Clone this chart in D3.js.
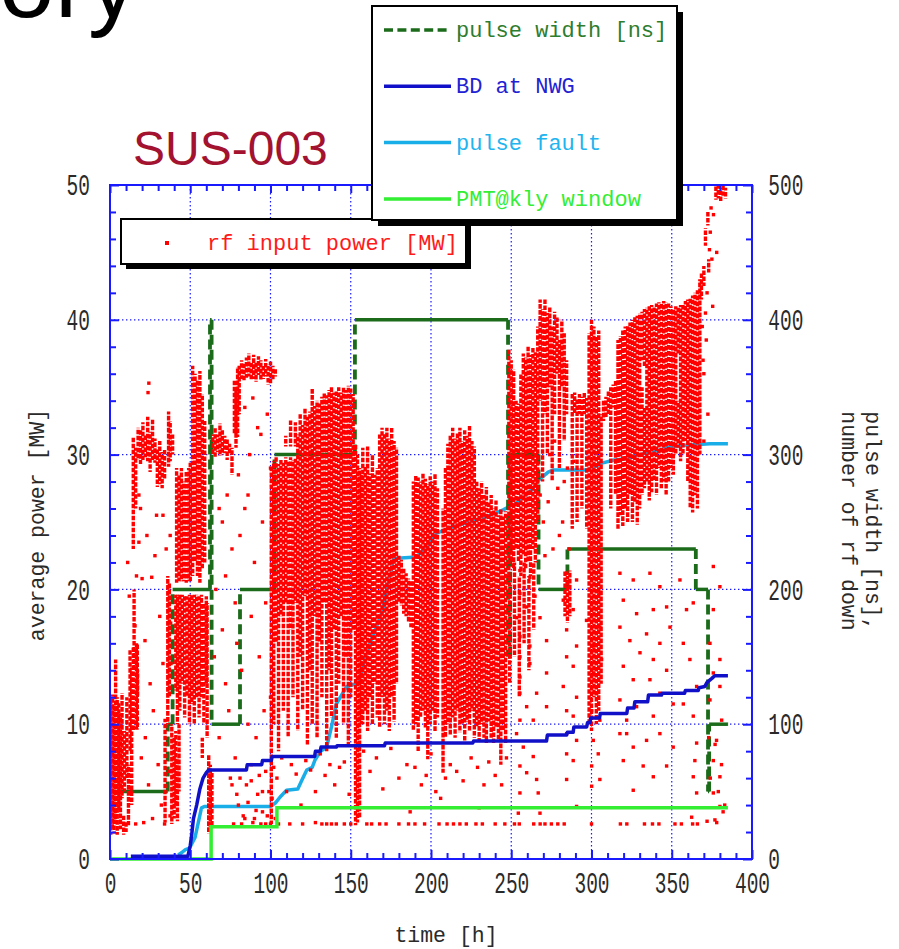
<!DOCTYPE html>
<html>
<head>
<meta charset="utf-8">
<script src="https://cdn.jsdelivr.net/npm/d3@7"></script>
<style>
  body { margin: 0; background: #fff; }
  svg { display: block; }
</style>
</head>
<body>
<div id="chart"></div>
<script>
// ---------------------------------------------------------------------------
// Data
// time [h] on x, average power [MW] on the left axis,
// pulse width [ns] / number of rf down on the right axis
const xTicks = d3.range(0, 401, 10);
const xLabels = [0, 50, 100, 150, 200, 250, 300, 350, 400];
const leftTicks = d3.range(0, 51, 2);
const leftLabels = [0, 10, 20, 30, 40, 50];
const rightTicks = d3.range(0, 501, 20);

// pulse width [ns], step after each time
const pulseWidth = [
  [0, 50], [36, 100], [39, 200], [62.3, 400], [63.3, 100], [81, 200],
  [102.5, 300], [152.6, 400], [248, 150], [249.3, 300], [267, 200],
  [285, 230], [365, 200], [372.6, 50], [373.3, 100], [385, 100],
];

// BD at NWG, cumulative count
const bdNWG = [
  [13, 2], [48.5, 2], [50, 10], [51, 19], [52, 30], [54, 40], [56, 52], [58, 60],
  [60, 64], [61.5, 66], [85, 66], [85.5, 70], [94.5, 70], [95, 73], [100.5, 73],
  [101, 76], [127.5, 76], [128, 80], [131, 80], [131.5, 83], [141, 83], [141.5, 84],
  [171, 84], [171.5, 86], [226, 86], [226.5, 87.5], [272, 87.5], [272.5, 92],
  [284.5, 92], [285, 94], [288.6, 94], [289, 98], [297, 98], [297.5, 101], [299, 101],
  [299.5, 104.6], [305, 104.6], [305.5, 108], [322, 108], [322.5, 112], [326.5, 112],
  [327, 116.7], [335, 116.7], [335.5, 121.6], [343.6, 121.6], [344, 123], [358, 123],
  [358.5, 125], [366.5, 125], [367, 127], [370.6, 128], [372, 131], [375, 134],
  [376.8, 136], [385, 136],
];

// pulse fault, cumulative count
const pulseFault = [
  [42.5, 3], [45, 5], [47, 7], [49.5, 8], [53, 16], [55, 27], [57, 38], [59, 39],
  [100, 39], [103, 41.5], [106, 46], [110, 51], [117, 52], [119.6, 58.6], [122.6, 66],
  [126, 68], [127.7, 73.4], [131, 79.6], [135, 83], [138, 98], [141, 115], [144, 121],
  [147.5, 128], [153.7, 130], [156, 136], [162, 160], [170, 185], [172.4, 200],
  [174.5, 209], [176.5, 223], [191, 224], [195, 229], [203.5, 241.5], [209.8, 245],
  [218, 248], [228.5, 251.5], [236.8, 255], [245, 259], [248, 261], [252, 263],
  [258, 269], [263, 274], [267, 281], [270, 284], [273, 287], [276, 288.5],
  [298, 288.5], [306, 293.5], [314, 296], [322, 297], [330, 300], [338.5, 302],
  [349, 305.8], [359, 307], [373.8, 308], [385, 308],
];

// PMT@kly window, cumulative count
const pmtKly = [[0, 0], [63, 0], [63, 24], [104, 24], [104, 38], [385, 38]];

// rf input power [MW]: dense vertical runs of samples [time, low, high]
const rfStreaks = [
  // 0-17 h
  [0.5, 1.8, 11.8], [1.5, 2.2, 12.2], [2.5, 1.9, 11.5], [3.5, 2.6, 14.8], [4.5, 1.8, 12],
  [5.5, 3.5, 11.6], [6.5, 2.2, 10.8], [7.5, 4.5, 12.3], [8.5, 1.8, 3.2], [9, 5, 9.5],
  [10, 2, 2.8], [10.5, 6, 12], [11.5, 2.5, 7], [12.5, 8, 15.5], [13.5, 4, 14.2],
  [14.5, 9.5, 15.8], [16.5, 9.6, 16], [17.2, 12, 14],
  // 14-41 h, ~30 MW
  [14.5, 23, 31.3], [16, 26, 30.5], [17.5, 29.6, 32], [19, 29.3, 31.8], [20.5, 29.6, 32.4],
  [22, 29.8, 31.5], [23.5, 29.5, 32.8], [25, 28.7, 31.7], [26.5, 29.6, 32.6], [28, 29.4, 31.2],
  [29.5, 27.6, 30.5], [31, 27.8, 31], [32.5, 27.5, 30.2], [34, 28.2, 30.4], [36.5, 29.1, 33.2],
  [37.5, 29.5, 32.5], [39, 30, 31.5],
  [15, 14, 20], [17, 9.6, 16], [34.3, 2.7, 10.4], [38.5, 2.6, 10],
  [40, 3, 9], [41, 4, 9.5], [42, 2.8, 7.5], [43, 5, 10],
  // 36-64 h
  [41.5, 20.5, 29], [43, 20.6, 28.5], [44.5, 20.6, 29], [46, 20.6, 28], [47.5, 20.5, 28.7],
  [49, 20.6, 29], [50, 20.5, 29.5], [51.5, 21, 36.6], [53, 22, 36], [54.5, 21, 35.5],
  [56, 20.5, 36.2], [57.5, 21.5, 34.5], [59, 22, 32.5],
  [36, 10, 21], [37, 12, 20.5], [41, 12.5, 19.6], [42, 10, 19.6],
  [43.5, 11, 19.6], [45, 13, 19.6], [46.5, 10.5, 19.6], [48, 12, 19.5], [49.5, 10, 19.6],
  [51, 11.5, 19.6], [52.5, 10, 19.6], [54, 12, 19.6], [55.5, 10.5, 19.5], [57, 12, 19.6],
  [58.5, 10, 19], [60, 13, 19.5], [60.5, 9, 19],
  [61.5, 1.9, 7.7], [62.5, 2, 7], [63.5, 2.5, 6.5], [57.5, 7.5, 9],
  // 63-104 h
  [64, 30, 31.5], [65.5, 29.8, 32], [67, 30.2, 31.5], [68.5, 29.9, 32.3], [70, 30, 31.8],
  [71.5, 30.1, 31.4], [73, 29.6, 31.2], [74.5, 30, 30.8], [76, 28.5, 30.5],
  [77.5, 31.5, 35.5], [78.5, 30.5, 35], [79.5, 31.3, 36.5], [80.5, 33, 36.6], [82, 35.6, 37],
  [83.5, 35.5, 36.8], [85, 35.7, 37.2], [86.5, 35.8, 37.5], [88, 35.5, 36.8], [89.5, 35.6, 37.4],
  [91, 35.4, 36.9], [92.5, 35.9, 37.3], [94, 35.5, 37], [95.5, 35.6, 36.6], [97, 35.8, 37.1],
  [98.5, 35.2, 36.7], [100, 35.3, 36.9], [101.5, 35.5, 36.6], [103, 35.8, 36.4],
  // 100-152 h
  [100.5, 2.6, 29], [102, 10, 29.5], [103.5, 16, 29.8], [105, 8, 29.3], [106.5, 18, 29.7],
  [108, 11, 29.4], [109.5, 19, 29.8], [111, 9, 29.5], [112.5, 17, 29.8], [114, 12, 29.6],
  [115.5, 19, 29.7], [109.5, 30.6, 31.4], [112.5, 30.6, 32.6], [115.5, 30.6, 32.4],
  [117, 9.5, 31.5], [118.5, 15, 33], [120, 11, 32.2], [121.5, 19.5, 33.5],
  [123, 8.5, 32.8], [124.5, 14, 33.2], [126, 10, 34.9], [127.5, 18, 33.6], [129, 9, 34],
  [130.5, 16, 33.8], [132, 12, 34.3], [133.5, 19, 34.6], [135, 8, 34.4], [136.5, 14, 34.8],
  [138, 10.5, 35], [139.5, 17, 34.6], [141, 9, 34.8], [142.5, 13, 35], [144, 18, 34.6],
  [145.5, 10, 35], [147, 15, 34.8], [148.5, 8.5, 35.1], [150, 12, 34.9], [151.5, 17, 34.5],
  // 152-205 h
  [153, 2.5, 30.8], [154.2, 2.7, 30], [155.5, 3, 29], [156.5, 10, 28.5],
  [157.5, 10, 30.5], [159, 11, 29.2], [160.5, 9.5, 30.6], [162, 12, 28.6], [163.5, 10, 30],
  [165, 13, 28.5], [166.5, 10.5, 29], [168, 9.8, 31.5], [169.5, 12, 32], [171, 10, 31.6],
  [172.5, 11, 32], [174, 9.5, 31.2], [175.5, 12, 32], [177, 10.2, 31], [178.5, 13, 30.5],
  [180, 19, 22.5], [181.5, 18.8, 22.2], [183, 18.2, 21.6], [184.5, 18, 21.2], [186, 17.6, 20.8],
  [187.5, 17.2, 20.6],
  [189, 9.5, 28], [190.5, 10, 28.5], [192, 8, 28.3], [193.5, 10.5, 28], [195, 11, 28.6],
  [196.5, 9.7, 28.2], [198, 7.4, 27.8], [199.5, 10, 28.4], [201, 11, 28], [202.5, 9.5, 28.6],
  [204, 10.5, 27.5],
  // 207-248 h
  [207.5, 6.4, 26], [209, 9, 29], [210.5, 10, 30.8], [212, 9.2, 31.5], [213.5, 10.5, 32],
  [215, 9, 31.2], [216.5, 11, 31.6], [218, 9.4, 32], [219.5, 10, 31], [221, 8.8, 31.8],
  [222.5, 10.2, 31.4], [224, 9.5, 32.2], [225.5, 11, 31], [227, 9, 30.6], [228.5, 9.8, 28],
  [230, 8.7, 27.5], [231.5, 10, 28], [233, 9, 27], [234.5, 8.6, 27.6], [236, 10.2, 26.5],
  [237.5, 9, 27], [239, 8.5, 26], [240.5, 9.8, 26.6], [242, 8.8, 25.5], [243.5, 7, 26],
  [245, 9.5, 25.4], [246.5, 8.6, 25.8],
  // 248-267 h
  [248.5, 21, 37.8], [250, 22, 37], [251.5, 21.5, 36.3], [253, 23, 34], [254.5, 22, 33.8],
  [256, 21, 36], [257.5, 22.5, 37.5], [259, 21.5, 37.2], [260.5, 22, 38], [262, 21, 37.4],
  [263.5, 23, 38], [265, 22, 37.6], [266.5, 25, 39.5],
  [249, 13, 21], [252, 15, 22], [255, 12, 21], [258, 16, 22], [261, 14, 21], [264, 17, 22],
  // 267-287 h
  [268, 34, 41.5], [269.5, 28, 40.8], [271, 33, 41.5], [272.5, 30, 40.5], [274, 35, 41],
  [275.5, 28, 39.5], [277, 33, 40.6], [278.5, 36, 40.2], [280, 29, 38.5], [281.5, 35, 40],
  [283, 31, 39], [284.5, 33, 37], [283.5, 18, 21.4], [285, 17.5, 21], [286.5, 18, 21.4],
  // 287-316 h
  [288, 24.5, 34.5], [289.5, 33, 34.6], [291, 25, 34.2], [292.5, 33, 34.5], [294, 26, 34.3],
  [295.5, 33, 34.6], [297, 24.5, 34.2], [298.5, 10, 39], [300, 9.5, 40], [301.5, 12, 39.5],
  [303, 10, 38.8], [304.5, 11, 39.2], [306, 13, 33], [307.5, 32.5, 34], [309, 32.7, 34.3],
  [310.5, 33, 34.8], [312, 26, 35], [313.5, 33.5, 35.2], [315, 27, 35.5],
  // 316-368 h
  [316.5, 24.5, 38.5], [318, 25.5, 38.8], [319.5, 24.7, 39.2], [321, 26, 39.5], [322.5, 25, 39.6],
  [324, 27, 39.8], [325.5, 25, 40], [327, 26.5, 40.2], [328.5, 24.8, 40.3], [330, 26, 40.5],
  [331.5, 27, 35], [331.5, 37, 40.6], [333, 27.5, 33.5], [333, 36.5, 40.8], [334.5, 28, 40.9],
  [336, 26.6, 41], [337.5, 27.2, 41.1], [339, 28, 41], [340.5, 27, 41.2], [342, 29, 41.3],
  [343.5, 27.5, 41.2], [345, 28, 41.4], [346.5, 27, 41.3], [348, 28, 41.2], [349.5, 29, 41],
  [351, 28.5, 40.8], [352.5, 30, 41], [354, 30.5, 34], [354, 37.5, 40.9], [355.5, 29.5, 41.1],
  [357, 30, 41.2], [358.5, 31, 41.4], [360, 28, 41.5], [361.5, 26, 41.6], [363, 25.7, 41.8],
  [364.5, 27, 42], [366, 26, 42.2], [367.5, 30, 43],
  // trail to 50 MW
  [368.5, 41.5, 43.5], [370, 42.5, 44], [371, 45.5, 46.8], [372.5, 47, 48], [373, 43.5, 44.5],
  [377.5, 48.9, 50], [379, 49, 50], [380.5, 48.8, 49.8], [382, 49.2, 50], [383.5, 49, 49.8],
];

// rf input power [MW]: isolated samples [time, power]
const rfDots = [
  // 0-40 h
  [20, 20.8], [26, 20.9], [21.8, 16.2], [15.6, 17.3], [23, 24], [19, 26], [28, 22.5], [31, 18],
  [33, 14.5], [25, 13], [12, 19.5], [29, 25.5], [35, 23], [18, 23.5], [27, 11], [22, 9],
  [30, 7], [24, 5.5], [32, 4], [19.5, 7.5], [26.5, 3], [16, 2.6], [21, 2.7], [34, 2.6],
  [13, 5], [23.7, 34.6], [24.2, 35.3], [18, 27], [16.5, 21], [33, 25.5], [37.5, 24], [11, 22],
  [37.2, 6.5], [37.4, 3.2], [38, 14.5], [37.8, 17.5],
  // 60-104 h
  [66, 20], [70, 17], [72, 13], [68, 9], [75, 6], [80, 4], [85, 5.5], [88, 7], [92, 4.8],
  [95, 3.5], [97, 6.5], [99, 5], [90, 3], [83, 3.2], [78, 7.5], [74, 11], [70, 25], [76, 23],
  [84, 26], [90, 22], [95, 25], [88, 18], [93, 15], [97, 19], [100, 12], [82, 14], [86, 10],
  [79, 16], [91, 9], [96, 11], [80, 28.5], [87, 30], [92, 32], [98, 33], [84, 33.5],
  [89, 34.2], [94, 31.5], [100, 29], [86, 27], [81, 24], [78, 19], [73, 27], [79, 4.8],
  [81, 6], [84, 3], [86, 4.2], [88, 5.8], [91, 3.6], [93, 6.2], [95, 5], [98, 3.2], [101, 4.5],
  [102, 6.8], [103, 3], [77, 2.6], [82, 2.6], [100, 2.6], [68, 26], [72, 21], [65, 15],
  [76, 5.5], [89, 2.7], [94, 2.6], [97, 2.6],
  // 100-250 h, low power
  [104, 6], [107, 7.5], [110, 5], [113, 7], [116, 6.3], [119, 4], [122, 7.3], [125, 6.6],
  [128, 5], [131, 7.8], [134, 6.2], [137, 7], [140, 5.5], [143, 6.8], [146, 7.2], [149, 4.8],
  [105, 2.6], [112, 2.6], [120, 2.6], [128, 2.7], [132, 2.6],
  [158, 8], [162, 6.5], [166, 7.5], [170, 5.2], [175, 8.2], [180, 6], [185, 7], [187, 3.5],
  [190, 6.8], [194, 5.5], [197, 6.2], [200, 7.8], [203, 5], [206, 4.5], [209, 6], [212, 7],
  [216, 6.5], [220, 5.8], [225, 7.5], [229, 6.8], [233, 5.5], [236, 7.2], [240, 6.2],
  [244, 5.5], [247, 7.5], [230, 3.8],
  // 250-385 h, low power
  [255.4, 21.4], [261.6, 20.9], [255.4, 19.7], [259.6, 18.7], [264.8, 19.5], [253.3, 17.9],
  [267.9, 17.9], [255.4, 16.5], [261.6, 15.8], [272, 16.2], [255.4, 15], [261.6, 14.5],
  [272, 13.8], [255.4, 13.5], [255.4, 12.3], [265.8, 12.3], [259.6, 11.3], [272, 11.3],
  [255.4, 10.3], [263.7, 10.3], [253.3, 9.3], [257.5, 8.3], [263.7, 7.6], [255.4, 6.9],
  [259.6, 6.4], [265.8, 5.9], [255.4, 4.9], [266.8, 4.9], [254.4, 3.4], [267.9, 3.4],
  [284.5, 21.2], [290.7, 20.7], [282.4, 19.2], [288.6, 18.5], [296.9, 17.7], [284.5, 17],
  [290.7, 15.8], [284.5, 15], [288.6, 14.3], [282.4, 12.8], [290.7, 12], [284.5, 11],
  [288.6, 10.6], [284.5, 9.3], [290.7, 8.8], [284.5, 7.8], [288.6, 7.3], [284.5, 5.9],
  [290.7, 3.9], [301.1, 21.7], [305.2, 19.7], [300.1, 18.5], [305.2, 17.2], [301.1, 15.8],
  [306.3, 14.8], [301.1, 13.8], [303.2, 12.3], [300.1, 11], [305.2, 10.3], [301.1, 8.8],
  [304.2, 7.8], [300.1, 6.9], [305.2, 5.9], [300.1, 5.4], [317.7, 21.2], [326, 20.7],
  [319.8, 19.2], [328.1, 18.2], [317.7, 17.2], [323.9, 16.2], [330.2, 15.3], [319.8, 14.3],
  [326, 13.3], [317.7, 11.8], [328.1, 11.3], [321.9, 10.3], [317.7, 9.3], [326, 8.3],
  [319.8, 7.3], [332.2, 6.9], [326, 5.1], [321.9, 9.3], [336.4, 21.2], [342.6, 20.2],
  [338.5, 18.5], [346.8, 18.7], [334.3, 16.7], [342.6, 16], [348.9, 17.2], [338.5, 14.8],
  [346.8, 14], [336.4, 13.3], [342.6, 12.3], [350.9, 11.5], [338.5, 10.6], [334.3, 8.8],
  [342.6, 9.3], [350.9, 8.3], [346.8, 6.9], [338.5, 6.1], [355.1, 20.7], [359.2, 18.5],
  [357.2, 16], [363.4, 19], [361.3, 14.8], [365.5, 12.8], [357.2, 11.5], [363.4, 10.6],
  [365.5, 8.6], [364.4, 7.3], [363.4, 6.1], [365.5, 4.9], [362.4, 3.1], [375.9, 21.7],
  [380, 20.2], [375.9, 18.5], [373.8, 16], [380, 14.8], [375.9, 13.8], [380, 12.8],
  [373.8, 11.8], [381.1, 10.3], [377.9, 8.8], [375.9, 7.3], [380, 6.1], [375.9, 4.9],
  [380, 3.9], [376.9, 2.9], [373, 9], [374, 6], [377, 8.5], [379, 5], [381, 7], [383, 4],
  [372, 2.8], [378, 2.7], [382, 3.5],
  // 267-287 h, mid power
  [268, 27], [270, 25], [273, 26.5], [276, 23], [279, 27.5], [282, 25], [285, 29], [271, 22.5],
  [274, 30], [277, 31], [280, 24], [283, 28], [286, 23], [289, 29.5],
  // trail to 50 MW
  [370, 36], [371, 40.5], [369, 39.5], [372, 42], [373.5, 45.2], [374, 46.5], [376, 47.8],
  [375, 44.5], [371.5, 38.5], [369.5, 37], [378, 45], [372.5, 33], [370, 31], [375.5, 41],
  [374.5, 48.3],
  // floor row near 2.6 MW
  [135, 2.6], [138, 2.6], [141, 2.6], [146, 2.6], [150, 2.6], [160, 2.6], [163, 2.6],
  [168, 2.6], [172, 2.6], [180, 2.6], [186, 2.6], [190, 2.6], [196, 2.6], [205, 2.6],
  [210, 2.6], [214, 2.6], [218, 2.6], [222, 2.6], [228, 2.6], [232, 2.6], [240, 2.6],
  [246, 2.6], [252, 2.6], [255, 2.6], [264, 2.6], [268, 2.6], [271, 2.6], [275, 2.6],
  [279, 2.6], [283, 2.6], [300, 2.6], [318, 2.6], [322, 2.6], [333, 2.6], [338, 2.6],
  [342, 2.6], [352, 2.6], [356, 2.6], [363, 2.6], [366, 2.6],
];

const legendItems = [
  { label: "pulse width [ns]", line: "#1b6b1b", text: "#2e7d2e", dashed: true },
  { label: "BD at NWG", line: "#1010c8", text: "#2222d4", dashed: false },
  { label: "pulse fault", line: "#1aaee8", text: "#22b4ee", dashed: false },
  { label: "PMT@kly window", line: "#33ee33", text: "#33ee33", dashed: false },
];

// ---------------------------------------------------------------------------
const W = 899, H = 949;
const MONO = "Liberation Mono, DejaVu Sans Mono, monospace";
const BLUE = "#1a1aff";

const x = d3.scaleLinear().domain([0, 400]).range([110, 752]);
const yL = d3.scaleLinear().domain([0, 50]).range([859, 185]);
const yR = d3.scaleLinear().domain([0, 500]).range([859, 185]);

const svg = d3.select("#chart").append("svg").attr("width", W).attr("height", H);
svg.append("rect").attr("width", W).attr("height", H).attr("fill", "#fff");

// slide title fragment + sample name
svg.append("text")
  .attr("x", 138).attr("y", 17)
  .attr("text-anchor", "end")
  .attr("font-family", "Liberation Sans, Arial, sans-serif")
  .attr("font-size", 100)
  .attr("fill", "#000")
  .text("ory");

svg.append("text")
  .attr("x", 133).attr("y", 165)
  .attr("font-family", "Liberation Sans, Arial, sans-serif")
  .attr("font-size", 48)
  .attr("fill", "#a3122f")
  .text("SUS-003");

//-----------------------------------------------------------------------------
// Grid
const grid = svg.append("g")
  .attr("stroke", BLUE)
  .attr("stroke-width", 1.2)
  .attr("stroke-dasharray", "1.4,2.6");

grid.selectAll(".grid-x")
  .data(xLabels.filter((d) => d > 0 && d < 400))
  .join("line")
  .attr("class", "grid-x")
  .attr("x1", (d) => x(d)).attr("x2", (d) => x(d))
  .attr("y1", yL(50)).attr("y2", yL(0));

grid.selectAll(".grid-y")
  .data(leftLabels.filter((d) => d > 0 && d < 50))
  .join("line")
  .attr("class", "grid-y")
  .attr("x1", x(0)).attr("x2", x(400))
  .attr("y1", (d) => yL(d)).attr("y2", (d) => yL(d));

//-----------------------------------------------------------------------------
// Series (cyan and pulse width sit under the rf samples)
const lineR = d3.line().x((d) => x(d[0])).y((d) => yR(d[1]));

svg.append("path")
  .datum(pulseFault)
  .attr("d", lineR)
  .attr("fill", "none")
  .attr("stroke", "#1aaee8")
  .attr("stroke-width", 3.5)
  .attr("stroke-linejoin", "round");

// pulse width: flat parts solid, jumps dashed
const pwFlat = d3.pairs(pulseWidth).map(([a, b]) => [[a[0], a[1]], [b[0], a[1]]]);
const pwJump = d3.pairs(pulseWidth).map(([a, b]) => [[b[0], a[1]], [b[0], b[1]]]);

svg.append("g").selectAll("path")
  .data(pwFlat)
  .join("path")
  .attr("d", lineR)
  .attr("fill", "none")
  .attr("stroke", "#1b6b1b")
  .attr("stroke-width", 3.5);

svg.append("g").selectAll("path")
  .data(pwJump)
  .join("path")
  .attr("d", lineR)
  .attr("fill", "none")
  .attr("stroke", "#1b6b1b")
  .attr("stroke-width", 3.8)
  .attr("stroke-dasharray", "10,5");

const rf = svg.append("g").attr("class", "rf");

rf.selectAll(".rf-streak")
  .data(rfStreaks)
  .join("line")
  .attr("class", "rf-streak")
  .attr("x1", (d) => x(d[0])).attr("x2", (d) => x(d[0]))
  .attr("y1", (d) => yL(d[2])).attr("y2", (d) => yL(d[1]))
  .attr("stroke", "#ff0000")
  .attr("stroke-width", 3.4)
  .attr("stroke-dasharray", "4.6,1.4")
  .attr("stroke-dashoffset", (d, i) => (i * 2.3) % 6);

rf.selectAll(".rf-dot")
  .data(rfDots)
  .join("rect")
  .attr("class", "rf-dot")
  .attr("x", (d) => x(d[0]) - 1.7)
  .attr("y", (d) => yL(d[1]) - 1.7)
  .attr("width", 3.4).attr("height", 3.4)
  .attr("fill", "#ff0000");

svg.append("path")
  .datum(pmtKly)
  .attr("d", lineR)
  .attr("fill", "none")
  .attr("stroke", "#33ee33")
  .attr("stroke-width", 3.5);

svg.append("path")
  .datum(bdNWG)
  .attr("d", lineR)
  .attr("fill", "none")
  .attr("stroke", "#1010c8")
  .attr("stroke-width", 3.5)
  .attr("stroke-linejoin", "round");

//-----------------------------------------------------------------------------
// Axes
const styleAxis = (g, majorTest, majorLen, attr) => {
  g.select(".domain").remove();
  g.attr("font-family", MONO).attr("font-size", 30);
  g.selectAll(".tick line").attr("stroke", BLUE).attr("stroke-width", 2);
  g.selectAll(".tick line").filter(majorTest).attr(attr, majorLen);
  g.selectAll(".tick text").attr("fill", "#2a2a2a").attr("transform", "scale(0.65,1)");
};

svg.append("g")
  .attr("transform", `translate(0,${yL(0)})`)
  .call(d3.axisBottom(x).tickValues(xTicks)
    .tickFormat((d) => (d % 50 === 0 ? d : ""))
    .tickSizeInner(-6).tickSizeOuter(0).tickPadding(13))
  .call((g) => styleAxis(g, (d) => d % 50 === 0, -9, "y2"));

svg.append("g")
  .attr("transform", `translate(0,${yL(50)})`)
  .call(d3.axisTop(x).tickValues(xTicks).tickFormat("")
    .tickSizeInner(-6).tickSizeOuter(0))
  .call((g) => styleAxis(g, (d) => d % 50 === 0, 8, "y2"));

svg.append("g")
  .attr("transform", `translate(${x(0)},0)`)
  .call(d3.axisLeft(yL).tickValues(leftTicks)
    .tickFormat((d) => (d % 10 === 0 ? d : ""))
    .tickSizeInner(-6).tickSizeOuter(0).tickPadding(31))
  .call((g) => styleAxis(g, (d) => d % 10 === 0, 9, "x2"));

svg.append("g")
  .attr("transform", `translate(${x(400)},0)`)
  .call(d3.axisRight(yR).tickValues(rightTicks)
    .tickFormat((d) => (d % 100 === 0 ? d : ""))
    .tickSizeInner(-6).tickSizeOuter(0).tickPadding(25))
  .call((g) => styleAxis(g, (d) => d % 100 === 0, -9, "x2"));

svg.append("rect")
  .attr("x", x(0)).attr("y", yL(50))
  .attr("width", x(400) - x(0)).attr("height", yL(0) - yL(50))
  .attr("fill", "none")
  .attr("stroke", BLUE)
  .attr("stroke-width", 2);

// Axis titles
const titles = svg.append("g")
  .attr("font-family", MONO)
  .attr("font-size", 21.5)
  .attr("fill", "#2a2a2a")
  .attr("text-anchor", "middle");

titles.append("text")
  .attr("x", 446).attr("y", 942)
  .text("time [h]");

titles.append("text")
  .attr("transform", "translate(44,525) rotate(-90)")
  .text("average power [MW]");

titles.append("text")
  .attr("transform", "translate(866,521) rotate(90)")
  .text("pulse width [ns],");

titles.append("text")
  .attr("transform", "translate(842,521) rotate(90)")
  .text("number of rf down");

//-----------------------------------------------------------------------------
// Legends
const legendBox = (g, bx, by, bw, bh, off) => {
  g.append("rect")
    .attr("x", bx + off).attr("y", by + off)
    .attr("width", bw).attr("height", bh)
    .attr("fill", "#000");
  g.append("rect")
    .attr("x", bx).attr("y", by)
    .attr("width", bw).attr("height", bh)
    .attr("fill", "#fff")
    .attr("stroke", "#000")
    .attr("stroke-width", 2);
};

const rfLegend = svg.append("g");
legendBox(rfLegend, 121, 219, 345, 45, 5);
rfLegend.append("rect")
  .attr("x", 165).attr("y", 241)
  .attr("width", 4).attr("height", 4)
  .attr("fill", "#ff0000");
rfLegend.append("text")
  .attr("x", 207).attr("y", 250)
  .attr("font-family", MONO)
  .attr("font-size", 22)
  .attr("fill", "#ff1a1a")
  .text("rf input power [MW]");

const lineLegend = svg.append("g");
legendBox(lineLegend, 372, 6, 305, 214, 6);

const rows = lineLegend.selectAll(".legend-row")
  .data(legendItems)
  .join("g")
  .attr("class", "legend-row")
  .attr("transform", (d, i) => `translate(384,${30 + i * 56.3})`);

rows.append("line")
  .attr("x1", 0).attr("x2", 67)
  .attr("stroke", (d) => d.line)
  .attr("stroke-width", 3.5)
  .attr("stroke-dasharray", (d) => (d.dashed ? "9,4.4" : null));

rows.append("text")
  .attr("x", 72).attr("y", 7)
  .attr("font-family", MONO)
  .attr("font-size", 22)
  .attr("fill", (d) => d.text)
  .text((d) => d.label);
</script>
</body>
</html>
